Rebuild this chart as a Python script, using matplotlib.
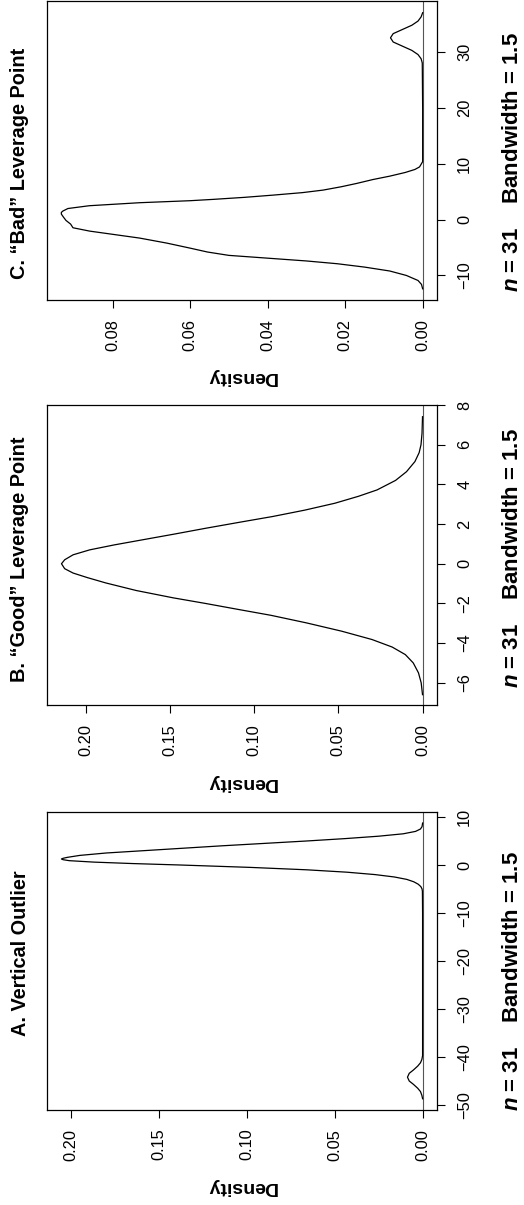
import matplotlib
matplotlib.use("Agg")
import matplotlib.pyplot as plt
from matplotlib.ticker import FixedLocator, FormatStrFormatter

plt.rcParams['font.family'] = ['Liberation Sans', 'DejaVu Sans']
plt.rcParams['mathtext.fontset'] = 'custom'
plt.rcParams['mathtext.it'] = 'Liberation Sans:italic:bold'
plt.rcParams['mathtext.rm'] = 'Liberation Sans:bold'

# panel A: vertical outlier (x value, density)
a_x = [-48.7, -48.0, -47.2, -46.5, -45.7, -45.0, -44.2, -43.4, -42.7, -41.9,
       -41.2, -40.5, -39.7, -30.0, -20.0, -10.0, -5.5, -5.0, -4.5, -4.0,
       -3.5, -3.0, -2.5, -2.0, -1.5, -1.0, -0.5, 0.0, 0.3, 0.6,
       0.9, 1.1, 1.25, 1.4, 1.6, 2.0, 2.5, 3.0, 3.5, 4.0, 4.5, 5.0,
       5.5, 6.0, 6.5, 7.0, 7.5, 8.0, 8.74]
a_d = [0.0, 0.0004, 0.0012, 0.0028, 0.0052, 0.0076, 0.0086, 0.0076, 0.0052, 0.0028,
       0.0012, 0.0004, 0.0, 0.0, 0.0, 0.0, 0.0001, 0.0003, 0.0010, 0.0025,
       0.0050, 0.0090, 0.0160, 0.0270, 0.0430, 0.0660, 0.0980, 0.1380, 0.1650, 0.1870,
       0.2010, 0.2045, 0.2055, 0.2045, 0.2020, 0.1950, 0.1800, 0.1580, 0.1360, 0.1140, 0.0900, 0.0660,
       0.0440, 0.0250, 0.0110, 0.0040, 0.0012, 0.0003, 0.0]

# panel B: "good" leverage point
b_x = [-6.6, -6.0, -5.5, -5.0, -4.58, -4.2, -3.82, -3.4, -2.98, -2.6,
       -2.31, -2.0, -1.72, -1.35, -0.97, -0.7, -0.47, -0.25, 0.0, 0.2,
       0.45, 0.70, 0.95, 1.21, 1.5, 1.79, 2.1, 2.38, 2.7, 3.05,
       3.4, 3.72, 4.2, 4.64, 5.15, 5.6, 6.0, 6.57, 7.41]
b_d = [0.0, 0.0008, 0.0024, 0.0055, 0.0102, 0.018, 0.030, 0.048, 0.069, 0.090,
       0.109, 0.129, 0.148, 0.170, 0.188, 0.199, 0.2075, 0.2125, 0.2144, 0.2125,
       0.2075, 0.1976, 0.183, 0.166, 0.147, 0.1286, 0.108, 0.089, 0.070, 0.052,
       0.038, 0.027, 0.016, 0.0095, 0.0045, 0.002, 0.0009, 0.0003, 0.0]

# panel C: "bad" leverage point
c_x = [-12.4, -11.6, -10.9, -10.0, -9.2, -8.5, -7.9, -7.4, -6.9, -6.4,
       -5.8, -5.1, -4.2, -3.3, -2.05, -1.45, -0.8, -0.14, 0.5, 1.0,
       1.3, 1.55, 2.0, 2.5, 3.04, 3.4, 3.64, 4.0, 4.4, 4.85,
       5.3, 5.9, 6.5, 7.2, 7.8, 8.46, 9.0, 9.46, 10.4, 20.0,
       28.1, 28.85, 29.6, 30.35, 31.1, 31.85, 32.6, 33.35, 34.1, 34.85,
       35.6, 36.35, 37.1]
c_d = [0.0, 0.0003, 0.0012, 0.0042, 0.0085, 0.015, 0.022, 0.030, 0.040, 0.050,
       0.0555, 0.060, 0.066, 0.073, 0.0859, 0.0902, 0.0908, 0.092, 0.0927, 0.0932,
       0.0932, 0.0928, 0.0915, 0.086, 0.073, 0.060, 0.054, 0.046, 0.0386, 0.031,
       0.0257, 0.021, 0.017, 0.0128, 0.0085, 0.0045, 0.002, 0.0008, 0.0, 0.0,
       0.0001, 0.0004, 0.0012, 0.0028, 0.0052, 0.0076, 0.0083, 0.0076, 0.0052, 0.0028,
       0.0012, 0.0004, 0.0]

titles = ["A. Vertical Outlier", "B. \u201cGood\u201d Leverage Point", "C. \u201cBad\u201d Leverage Point"]
sub = "$n$ = 31    Bandwidth = 1.5"
x_ticks = [[-50, -40, -30, -20, -10, 0, 10], [-6, -4, -2, 0, 2, 4, 6, 8], [-10, 0, 10, 20, 30]]
d_ticks = [[0.0, 0.05, 0.10, 0.15, 0.20], [0.0, 0.05, 0.10, 0.15, 0.20], [0.0, 0.02, 0.04, 0.06, 0.08]]
x_lims = [(-51.04, 11.04), (-7.12, 8.0), (-14.4, 39.2)]
d_lims = [(0.2137, -0.0082), (0.223, -0.0086), (0.0969, -0.0037)]
curves = [(a_x, a_d), (b_x, b_d), (c_x, c_d)]

# box positions in pixels (top, bottom) of the 524x1205 figure
W, H = 524, 1205
boxes = [(812, 1110), (405, 705), (1, 300)]
title_y = [0.527, 0.487, 0.458]
sub_y = [0.433, 0.49, 0.462]

fig = plt.figure(figsize=(W / 100, H / 100), dpi=100)

for i in range(3):
    top, bot = boxes[i]
    ax = fig.add_axes([47 / W, (H - bot) / H, 390 / W, (bot - top) / H])
    xs, ds = curves[i]
    ax.axvline(0, color='#555555', lw=0.8)
    ax.plot(ds, xs, color='black', lw=0.9)
    ax.set_xlim(*d_lims[i])
    ax.set_ylim(*x_lims[i])

    ax.xaxis.set_major_locator(FixedLocator(d_ticks[i]))
    ax.xaxis.set_major_formatter(FormatStrFormatter('%.2f'))
    ax.yaxis.set_major_locator(FixedLocator(x_ticks[i]))
    ax.yaxis.tick_right()
    ax.tick_params(axis='x', labelrotation=90, length=5.5, width=0.8, pad=8, labelsize=11.8)
    ax.tick_params(axis='y', labelrotation=90, length=5.5, width=0.8, pad=9, labelsize=11.8)
    for lab in ax.get_yticklabels():
        lab.set_verticalalignment('center')
    for s in ax.spines.values():
        s.set_linewidth(0.9)

    ax.set_xlabel("Density", rotation=180, fontsize=14, fontweight='bold', va='center')
    ax.xaxis.set_label_coords(0.5, -(77 / (bot - top)))
    ax.yaxis.set_label_position('right')
    ax.set_ylabel(sub, rotation=90, fontsize=16, fontweight='bold', va='center')
    ax.yaxis.set_label_coords((513 - 47) / 390, sub_y[i])
    ax.text((20 - 47) / 390, title_y[i], titles[i], transform=ax.transAxes, rotation=90,
            ha='center', va='center', fontsize=14.3, fontweight='bold')

fig.savefig('out.png', dpi=100)
plt.close(fig)
